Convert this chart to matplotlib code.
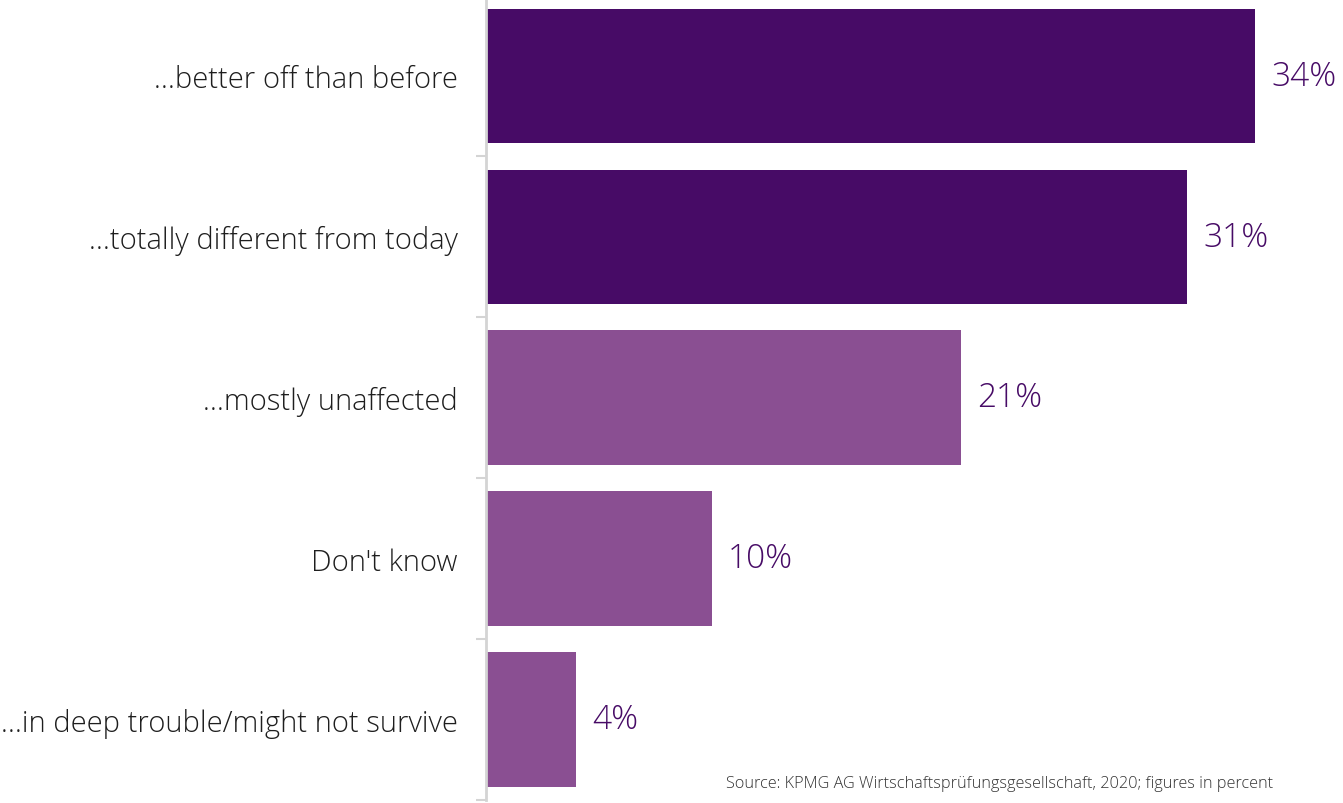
import matplotlib.pyplot as plt
import numpy as np

# survey answers, top to bottom
answers = ['…better off than before', '…totally different from today', '…mostly unaffected',
           "Don't know", '…in deep trouble/might not survive']
shares = [34, 31, 21, 10, 4]
bar_colors = ['#470b66', '#470b66', '#8a4f92', '#8a4f92', '#8a4f92']
source = 'Source: KPMG AG Wirtschaftsprüfungsgesellschaft, 2020; figures in percent'

plt.rcParams['font.family'] = ['Open Sans', 'DejaVu Sans']

fig = plt.figure(figsize=(13.43, 8.04), dpi=100)
ax = fig.add_axes([485.5 / 1343, 3 / 804, 1 - 485.5 / 1343, 801 / 804])

pos = np.arange(len(answers))
ax.barh(pos, shares, height=0.836, color=bar_colors, zorder=2)

for p, v in zip(pos, shares):
    ax.text(v + 0.72, p, f'{v}%', va='center', ha='left', fontsize=24,
            color='#470b66', fontweight='light')

ax.set_xlim(0, 37.9)
ax.set_ylim(4.482, -0.478)

ax.set_yticks(pos)
ax.set_yticklabels(answers, fontsize=21, color='#1e1e1e', fontweight='light')
ax.set_yticks(np.arange(0.5, 5, 1), minor=True)
ax.tick_params(axis='y', which='major', length=0, pad=20)
ax.tick_params(axis='y', which='minor', length=7, width=1.5, color='#d4d4d4')
ax.set_xticks([])

for s in ['top', 'right', 'bottom']:
    ax.spines[s].set_visible(False)
ax.spines['left'].set_color('#d4d4d4')
ax.spines['left'].set_linewidth(2)

fig.text(1273 / 1343, 1 - 784 / 804, source, ha='right', va='center',
         fontsize=11.7, color='#333333', fontweight='light')

fig.savefig('out.png', dpi=100)
